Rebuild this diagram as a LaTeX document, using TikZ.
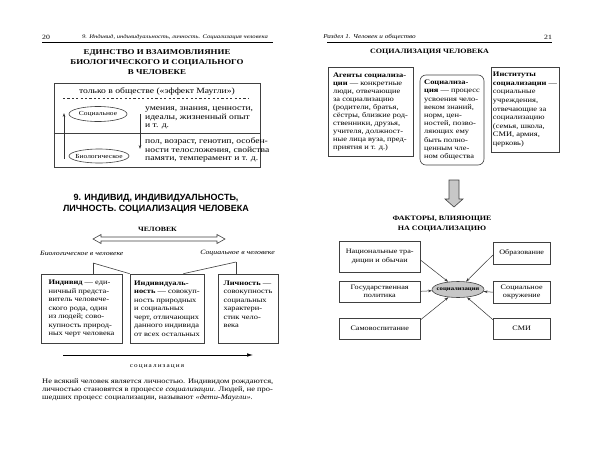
\documentclass[tikz,border=0pt]{standalone}
\usepackage{fontspec}
\setmainfont{Liberation Serif}[FakeStretch=1.2]
\newfontfamily\sansbf{Liberation Sans}
\usetikzlibrary{arrows.meta,shapes.geometric,calc}
\newcommand{\setfs}[2]{\fontsize{#1}{#2}\selectfont}
\tikzset{
  txt/.style={inner sep=0pt, align=left, font=\setfs{7}{8.5}},
  hdr/.style={inner sep=0pt, font=\setfs{6}{7}\itshape},
  ttl/.style={inner sep=0pt, align=center, font=\setfs{7.2}{9.6}\bfseries},
  frame/.style={draw=black!75, line width=0.6pt},
  box/.style={frame, inner sep=2pt, align=left, font=\setfs{7}{8.5}},
  fbox/.style={frame, inner sep=1pt, align=center, font=\setfs{6.8}{8.5}},
  oval/.style={frame, ellipse, inner xsep=-8pt, inner ysep=0pt, font=\setfs{6.2}{8}},
  arr/.style={-{Stealth[length=4pt,width=2.6pt]}, black!80, line width=0.5pt},
}
\begin{document}
\begin{tikzpicture}[x=1pt,y=-1pt]
  \useasboundingbox (0,0) rectangle (600,466);
  % left page
  \node[hdr, font=\setfs{6.5}{7}] (pg20) at (46,37) {20};
  \node[hdr, font=\setfs{5.5}{7}\itshape] (hdl) at (175,37) {9. Индивид, индивидуальность, личность. Социализация человека};
  \draw[line width=0.5pt] (42,42) -- (273,42);
  \node[ttl, font=\setfs{7.4}{9.6}\bfseries] (unityttl) at (157,62) {ЕДИНСТВО И ВЗАИМОВЛИЯНИЕ\\БИОЛОГИЧЕСКОГО И СОЦИАЛЬНОГО\\В ЧЕЛОВЕКЕ};
  \node[frame, minimum width=206pt, minimum height=84pt] (unity) at (157,125) {};
  \node[txt, font=\setfs{8}{8.6}] (mowgli) at (157,91) {только в обществе («эффект Маугли»)};
  \draw[black!80, dash pattern=on 2.2pt off 2.2pt] (63,98) -- (248,98);
  \draw[frame] (unity.west |- 0,133) -- (unity.east |- 0,133);
  \node[oval, minimum width=58pt, minimum height=15pt] (socl) at (98,114) {Социальное};
  \node[oval, minimum width=60pt, minimum height=14pt] (biol) at (99,156) {Биологическое};
  \coordinate (upa) at (64,159);
  \coordinate (upb) at (64,113);
  \draw[arr] (upa) -- (upb);
  \coordinate (dna) at (140,114);
  \coordinate (dnb) at (140,149);
  \draw[arr] (dna) -- (dnb);
  \node[txt, anchor=west, font=\setfs{8}{8.6}] (soctxt) at (145,118) {умения, знания, ценности,\\идеалы, жизненный опыт\\и т. д.};
  \node[txt, anchor=west, font=\setfs{8}{8.2}] (biotxt) at (145,150) {пол, возраст, генотип, особен-\\ности телосложения, свойства\\памяти, темперамент и т. д.};

  \node[inner sep=0pt, align=center, font=\sansbf\setfs{9}{11.3}\bfseries] (mainttl) at (156,203.5) {9. ИНДИВИД, ИНДИВИДУАЛЬНОСТЬ,\\ЛИЧНОСТЬ. СОЦИАЛИЗАЦИЯ ЧЕЛОВЕКА};
  \node[ttl, font=\setfs{6.5}{8}\bfseries] (man) at (157.5,229) {ЧЕЛОВЕК};
  \draw[frame, fill=white] (93,239) -- (101,234.5) -- (101,237) -- (217,237) -- (217,234.5) -- (225,239)
    -- (217,243.5) -- (217,241) -- (101,241) -- (101,243.5) -- cycle;
  \node[hdr, font=\setfs{6.5}{8}\itshape, anchor=west] (biolbl) at (40,253) {Биологическое в человеке};
  \node[hdr, font=\setfs{6.5}{8}\itshape, anchor=east] (soclbl) at (275,253) {Социальное в человеке};

  \node[box, minimum width=81pt, minimum height=69pt] (ind) at (81.5,308.5) {\textbf{Индивид} — еди-\\ничный предста-\\витель человече-\\ского рода, один\\из людей; сово-\\купность природ-\\ных черт человека};
  \node[box, minimum width=74pt, minimum height=69pt] (indv) at (167,308.5) {\textbf{Индивидуаль-}\\\textbf{ность} — совокуп-\\ность природных\\и социальных\\черт, отличающих\\данного индивида\\от всех остальных};
  \node[box, minimum width=60pt, minimum height=69pt] (pers) at (248,308.5) {\textbf{Личность} —\\совокупность\\социальных\\характери-\\стик чело-\\века\\\mbox{}};
  \coordinate (bj) at (93,263);
  \coordinate (sj) at (236,262);
  \draw[frame] (bj) -- (bj |- ind.north);
  \draw[frame] (bj) -- (indv.north west);
  \draw[frame] (sj) -- (sj |- pers.north);
  \draw[frame] (sj) -- ([xshift=-21pt]indv.north east);

  \coordinate (sz0) at (63,355);
  \coordinate (sz1) at (253,355);
  \draw[-{Latex[length=6pt,width=3.5pt]}, line width=0.6pt] (sz0) -- (sz1);
  \node[txt, font=\setfs{6}{7}\addfontfeature{LetterSpace=18}] (szlbl) at (157,367) {социализация};
  \node[txt, anchor=west, font=\setfs{7}{7.8}] (para) at (42,390) {Не всякий человек является личностью. Индивидом рождаются,\\личностью становятся в процессе \textit{социализации}. Людей, не про-\\шедших процесс социализации, называют \textit{«дети-Маугли»}.};

  % right page
  \node[hdr] (hdr) at (369.5,37) {Раздел 1. Человек и общество};
  \node[hdr, font=\setfs{6.5}{7}] (pg21) at (548,37) {21};
  \draw[line width=0.5pt] (327,42) -- (552,42);
  \node[ttl, font=\setfs{6.7}{9}\bfseries] (szttl) at (429.5,52) {СОЦИАЛИЗАЦИЯ ЧЕЛОВЕКА};

  \node[box, minimum width=85pt, minimum height=89pt, font=\setfs{7}{8}] (agents) at (370.5,111.5) {\textbf{Агенты социализа-}\\\textbf{ции} — конкретные\\люди, отвечающие\\за социализацию\\(родители, братья,\\сёстры, близкие род-\\ственники, друзья,\\учителя, должност-\\ные лица вуза, пред-\\приятия и т. д.)};
  \node[box, rounded corners=6pt, minimum width=64pt, minimum height=90pt, font=\setfs{7}{8.2}] (socz) at (452,120) {\textbf{Социализа-}\\\textbf{ция} — процесс\\усвоения чело-\\веком знаний,\\норм, цен-\\ностей, позво-\\ляющих ему\\быть полно-\\ценным чле-\\ном общества};
  \node[box, minimum width=66pt, minimum height=85pt, font=\setfs{7}{8.6}] (inst) at (525,109.5) {\textbf{Институты}\\\textbf{социализации} —\\социальные\\учреждения,\\отвечающие за\\социализацию\\(семья, школа,\\СМИ, армия,\\церковь)};

  \draw[frame, fill=black!22] (449,180) -- (459,180) -- (459,199) -- (463,199) -- (454,207) -- (445,199) -- (449,199) -- cycle;
  \node[ttl, font=\setfs{6.7}{9.6}\bfseries] (factttl) at (442,224) {ФАКТОРЫ, ВЛИЯЮЩИЕ\\НА СОЦИАЛИЗАЦИЮ};

  \node[fbox, minimum width=81pt, minimum height=31pt] (nat) at (379.7,256.5) {Национальные тра-\\диции и обычаи};
  \node[fbox, minimum width=81pt, minimum height=21pt] (gov) at (379.7,291.3) {Государственная\\политика};
  \node[fbox, minimum width=81pt, minimum height=21pt] (self) at (379.7,328.5) {Самовоспитание};
  \node[fbox, minimum width=57pt, minimum height=22pt] (edu) at (521.7,253) {Образование};
  \node[fbox, minimum width=57pt, minimum height=22pt] (env) at (521.7,292.2) {Социальное\\окружение};
  \node[fbox, minimum width=57pt, minimum height=21pt] (media) at (521.7,328.5) {СМИ};
  \node[oval, inner xsep=-4pt, fill=black!22, minimum width=52pt, minimum height=16pt, font=\setfs{5.6}{6}\bfseries] (szell) at (458,289.5) {социализация};
  \draw[arr] (nat.-5) -- (szell);
  \draw[arr] (gov.east) -- (szell);
  \draw[arr] (self.12) -- (szell);
  \draw[arr] (edu.184) -- (szell);
  \draw[arr] (env.west) -- (szell);
  \draw[arr] (media.163) -- (szell);
\end{tikzpicture}
\end{document}
